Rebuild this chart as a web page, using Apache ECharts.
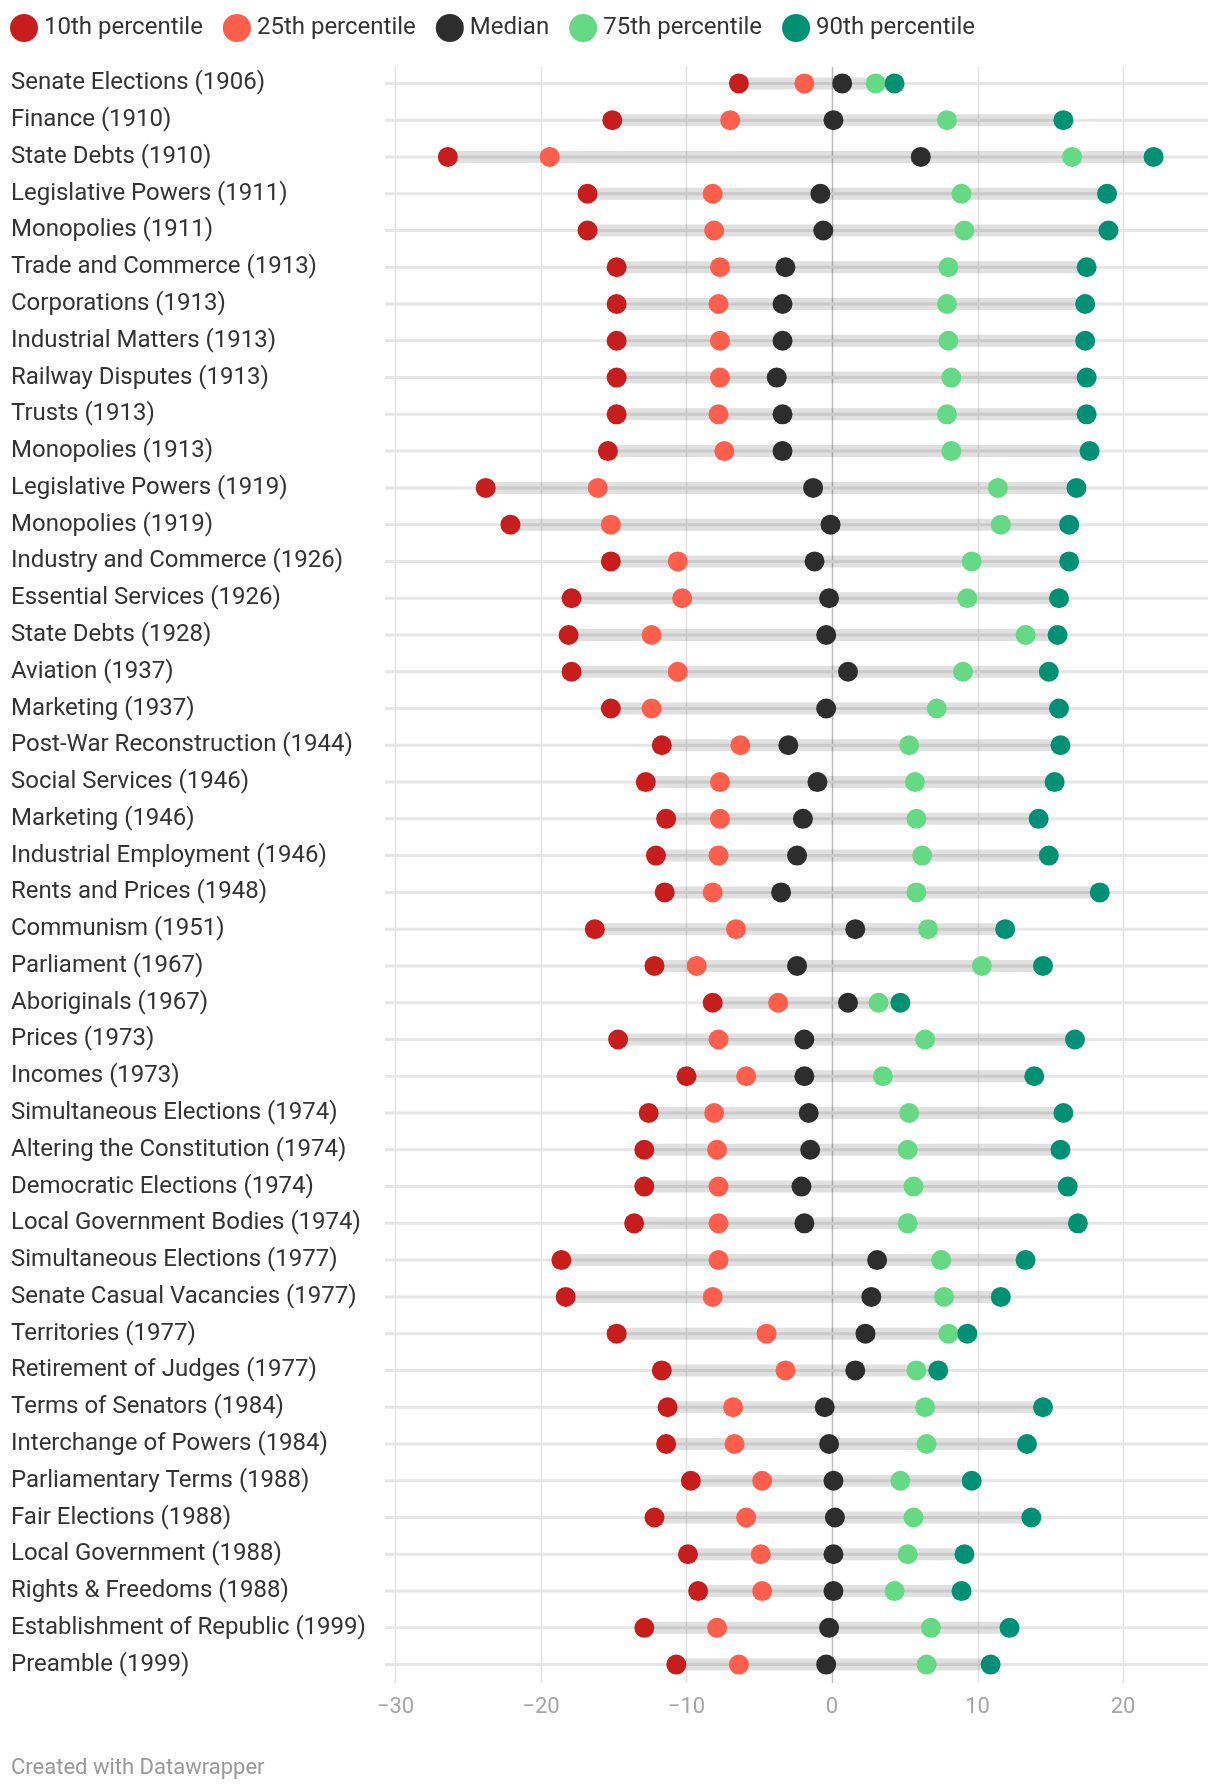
<!DOCTYPE html>
<html>
<head>
<meta charset="utf-8">
<script src="https://cdn.jsdelivr.net/npm/echarts@6/dist/echarts.min.js"></script>
<style>
  html, body { margin: 0; padding: 0; background: #fff; }
  #chart { width: 1220px; height: 1792px; }
</style>
</head>
<body>
<div id="chart"></div>
<script>
const categories = [
  "Senate Elections (1906)", "Finance (1910)", "State Debts (1910)", "Legislative Powers (1911)",
  "Monopolies (1911)", "Trade and Commerce (1913)", "Corporations (1913)", "Industrial Matters (1913)",
  "Railway Disputes (1913)", "Trusts (1913)", "Monopolies (1913)", "Legislative Powers (1919)",
  "Monopolies (1919)", "Industry and Commerce (1926)", "Essential Services (1926)", "State Debts (1928)",
  "Aviation (1937)", "Marketing (1937)", "Post-War Reconstruction (1944)", "Social Services (1946)",
  "Marketing (1946)", "Industrial Employment (1946)", "Rents and Prices (1948)", "Communism (1951)",
  "Parliament (1967)", "Aboriginals (1967)", "Prices (1973)", "Incomes (1973)",
  "Simultaneous Elections (1974)", "Altering the Constitution (1974)", "Democratic Elections (1974)",
  "Local Government Bodies (1974)", "Simultaneous Elections (1977)", "Senate Casual Vacancies (1977)",
  "Territories (1977)", "Retirement of Judges (1977)", "Terms of Senators (1984)",
  "Interchange of Powers (1984)", "Parliamentary Terms (1988)", "Fair Elections (1988)",
  "Local Government (1988)", "Rights & Freedoms (1988)", "Establishment of Republic (1999)", "Preamble (1999)"
];
const p10 = [-6.4, -15.1, -26.4, -16.8, -16.8, -14.8, -14.8, -14.8, -14.8, -14.8, -15.4, -23.8,
  -22.1, -15.2, -17.9, -18.1, -17.9, -15.2, -11.7, -12.8, -11.4, -12.1, -11.5, -16.3,
  -12.2, -8.2, -14.7, -10.0, -12.6, -12.9, -12.9, -13.6, -18.6, -18.3,
  -14.8, -11.7, -11.3, -11.4, -9.7, -12.2, -9.9, -9.2, -12.9, -10.7];
const p25 = [-1.9, -7.0, -19.4, -8.2, -8.1, -7.7, -7.8, -7.7, -7.7, -7.8, -7.4, -16.1,
  -15.2, -10.6, -10.3, -12.4, -10.6, -12.4, -6.3, -7.7, -7.7, -7.8, -8.2, -6.6,
  -9.3, -3.7, -7.8, -5.9, -8.1, -7.9, -7.8, -7.8, -7.8, -8.2,
  -4.5, -3.2, -6.8, -6.7, -4.8, -5.9, -4.9, -4.8, -7.9, -6.4];
const median = [0.7, 0.1, 6.1, -0.8, -0.6, -3.2, -3.4, -3.4, -3.8, -3.4, -3.4, -1.3,
  -0.1, -1.2, -0.2, -0.4, 1.1, -0.4, -3.0, -1.0, -2.0, -2.4, -3.5, 1.6,
  -2.4, 1.1, -1.9, -1.9, -1.6, -1.5, -2.1, -1.9, 3.1, 2.7,
  2.3, 1.6, -0.5, -0.2, 0.1, 0.2, 0.1, 0.1, -0.2, -0.4];
const p75 = [3.0, 7.9, 16.5, 8.9, 9.1, 8.0, 7.9, 8.0, 8.2, 7.9, 8.2, 11.4,
  11.6, 9.6, 9.3, 13.3, 9.0, 7.2, 5.3, 5.7, 5.8, 6.2, 5.8, 6.6,
  10.3, 3.2, 6.4, 3.5, 5.3, 5.2, 5.6, 5.2, 7.5, 7.7,
  8.0, 5.8, 6.4, 6.5, 4.7, 5.6, 5.2, 4.3, 6.8, 6.5];
const p90 = [4.3, 15.9, 22.1, 18.9, 19.0, 17.5, 17.4, 17.4, 17.5, 17.5, 17.7, 16.8,
  16.3, 16.3, 15.6, 15.5, 14.9, 15.6, 15.7, 15.3, 14.2, 14.9, 18.4, 11.9,
  14.5, 4.7, 16.7, 13.9, 15.9, 15.7, 16.2, 16.9, 13.3, 11.6,
  9.3, 7.3, 14.5, 13.4, 9.6, 13.7, 9.1, 8.9, 12.2, 10.9];
const tickValues = [-30, -20, -10, 0, 10, 20];
const seriesNames = ["10th percentile", "25th percentile", "Median", "75th percentile", "90th percentile"];
const seriesColors = ["#c71e1d", "#fe5f4c", "#2d2d2d", "#66d985", "#009175"];

const seriesValues = [p10, p25, median, p75, p90];
const FONT = "Roboto, 'Noto Sans', sans-serif";

const chart = echarts.init(document.getElementById('chart'), null, { renderer: 'canvas' });

const rangeData = categories.map((c, i) => {
  const vals = seriesValues.map(s => s[i]);
  return [i, Math.min(...vals), Math.max(...vals)];
});

const option = {
  animation: false,
  backgroundColor: '#ffffff',
  textStyle: { fontFamily: FONT },
  legend: {
    data: seriesNames,
    left: 5, top: 9,
    icon: 'circle',
    itemWidth: 30, itemHeight: 28, itemGap: 20,
    textStyle: { fontSize: 24, color: '#333333', fontFamily: FONT }
  },
  grid: { left: 385, right: 12, top: 65, bottom: 109, containLabel: false },
  xAxis: {
    type: 'value', min: -30.72, max: 25.84,
    axisLine: { show: false }, axisTick: { show: false }, splitLine: { show: false },
    axisLabel: {
      customValues: tickValues,
      color: '#a6a6a6', fontSize: 22, margin: 13, fontFamily: FONT,
      formatter: v => (v < 0 ? '\u2212' + Math.abs(v) : String(v))
    }
  },
  yAxis: {
    type: 'category', data: categories, inverse: true,
    axisLine: { show: false }, axisTick: { show: false }, splitLine: { show: false },
    axisLabel: { align: 'left', margin: 374, fontSize: 24, color: '#333333', fontFamily: FONT }
  },
  graphic: [{
    type: 'text', left: 11, top: 1757,
    style: { text: 'Created with Datawrapper', fill: '#999999', fontSize: 22, fontFamily: FONT }
  }],
  series: [
    {
      type: 'custom', z: 1, silent: true,
      data: tickValues.map(v => [v]),
      encode: { x: 0 },
      renderItem: (params, api) => {
        const cs = params.coordSys;
        const x = Math.round(api.coord([api.value(0), 0])[0]) + 0.5;
        const isZero = api.value(0) === 0;
        return {
          type: 'line',
          shape: { x1: x, y1: cs.y + 2, x2: x, y2: cs.y + cs.height },
          style: { stroke: isZero ? '#bdbdbd' : '#e3e3e3', lineWidth: 1.5 }
        };
      }
    },
    {
      type: 'custom', z: 2, silent: true,
      data: rangeData,
      encode: { y: 0, x: [1, 2] },
      renderItem: (params, api) => {
        const cs = params.coordSys;
        const idx = api.value(0);
        const a = api.coord([api.value(1), idx]);
        const b = api.coord([api.value(2), idx]);
        return {
          type: 'group',
          children: [
            { type: 'line', shape: { x1: cs.x, y1: a[1], x2: cs.x + cs.width, y2: a[1] },
              style: { stroke: '#e6e6e6', lineWidth: 3 } },
            { type: 'rect', shape: { x: a[0], y: a[1] - 6, width: b[0] - a[0], height: 12 },
              style: { fill: 'rgba(0,0,0,0.12)' } }
          ]
        };
      }
    },
    ...seriesNames.map((name, k) => ({
      name,
      type: 'scatter', z: 3 + k,
      symbol: 'circle', symbolSize: 20,
      itemStyle: { color: seriesColors[k], opacity: 1 },
      data: seriesValues[k].map((v, i) => [v, i])
    }))
  ]
};
chart.setOption(option);
</script>
</body>
</html>
